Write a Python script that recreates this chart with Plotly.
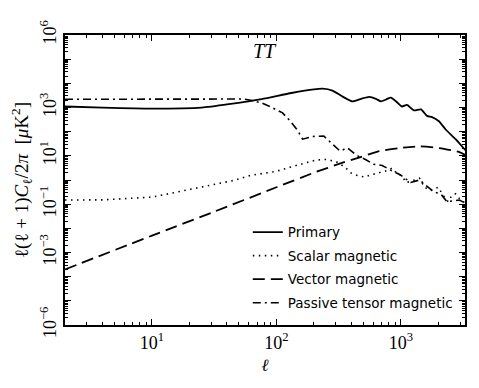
import numpy as np
import plotly.graph_objects as go

# multipoles and D_ell values (muK^2)
ell_primary = [2, 4, 10, 25, 43, 76, 132, 200, 235, 282, 340, 410, 480, 556, 630,
               692, 760, 830, 930, 1020, 1120, 1270, 1450, 1620, 1780, 2020, 2290,
               2750, 3300]
d_primary = [1100, 980, 890, 980, 1410, 2240, 3980, 5620, 6000, 5000, 2820, 1780,
             2290, 2750, 2290, 1780, 2140, 2570, 1660, 1100, 1290, 760, 830, 450,
             400, 270, 123, 49, 17]

ell_scalar = [2, 4, 10, 25, 45, 62, 100, 129, 162, 209, 251, 302, 355, 398, 447,
              513, 562, 631, 708, 776, 851, 933, 1023, 1096, 1202, 1318, 1413,
              1549, 1738, 1995, 2188, 2399, 2570, 2754, 3020, 3300]
d_scalar = [0.148, 0.151, 0.195, 0.49, 0.95, 1.55, 2.29, 3.39, 4.68, 6.76, 7.08,
            5.75, 3.39, 1.95, 1.55, 1.32, 1.58, 1.86, 2.09, 2.45, 3.09, 1.82, 1.48,
            0.79, 0.87, 1.07, 1.17, 0.50, 0.37, 0.50, 0.23, 0.126, 0.23, 0.27,
            0.148, 0.11]

ell_vector = [2, 10, 32, 100, 200, 340, 460, 670, 970, 1400, 2020, 2920, 3300]
d_vector = [2.0e-4, 5.0e-3, 0.05, 0.5, 2.0, 5.2, 8.5, 15.5, 21, 24.5, 21, 14.5, 10.7]

ell_tensor = [2, 10, 43, 55, 62, 76, 91, 112, 129, 148, 162, 195, 240, 275, 324,
              372, 437, 520, 603, 708, 832, 977, 1200, 1410, 1780, 2140, 2340,
              2950, 3300]
d_tensor = [2190, 2240, 2290, 2240, 2000, 1550, 1020, 600, 275, 112, 49, 63, 66,
            36, 15.8, 21.4, 10.7, 7.0, 4.5, 4.0, 2.5, 1.7, 0.79, 1.0, 0.37, 0.23,
            0.126, 0.148, 0.11]

x_ticks = [10, 100, 1000]
x_ticktext = ["10<sup>1</sup>", "10<sup>2</sup>", "10<sup>3</sup>"]
y_labels = {6: "10<sup>6</sup>", 3: "10<sup>3</sup>", 1: "10<sup>1</sup>",
            -1: "10<sup>\u22121</sup>", -3: "10<sup>\u22123</sup>", -6: "10<sup>\u22126</sup>"}

serif = "Liberation Serif, DejaVu Serif, serif"

fig = go.Figure()
fig.add_trace(go.Scatter(x=ell_primary, y=d_primary, mode="lines", name="Primary",
                         legendgroup="a", line=dict(color="black", width=1.8, shape="spline", smoothing=0.6)))
fig.add_trace(go.Scatter(x=ell_scalar, y=d_scalar, mode="lines", name="Scalar magnetic",
                         legendgroup="b", line=dict(color="black", width=1.6, dash="1.5px,4.5px")))
fig.add_trace(go.Scatter(x=ell_vector, y=d_vector, mode="lines", name="Vector magnetic",
                         legendgroup="c", line=dict(color="black", width=1.8, dash="12px,6px",
                                                    shape="spline", smoothing=0.6)))
fig.add_trace(go.Scatter(x=ell_tensor, y=d_tensor, mode="lines", name="Passive tensor magnetic",
                         legendgroup="d", line=dict(color="black", width=1.6, dash="8px,4px,2px,4px")))

# minor log ticks 2..9 in each decade
x_minor = [k * 10.0 ** d for d in range(0, 4) for k in range(2, 10) if 2 <= k * 10.0 ** d <= 3300]
y_minor = [k * 10.0 ** d for d in range(-6, 6) for k in range(2, 10)]
y_major = [10.0 ** d for d in range(-6, 7)]
y_text = [y_labels.get(d, "") for d in range(-6, 7)]

axis_common = dict(type="log", showline=True, linecolor="black", linewidth=2, mirror="allticks",
                   ticks="inside", ticklen=6, tickwidth=1, tickcolor="black", showgrid=False,
                   zeroline=False, tickfont=dict(family=serif, size=18, color="black"))

fig.update_xaxes(**axis_common, range=[np.log10(2), 3.515], tickmode="array",
                 tickvals=x_ticks, ticktext=x_ticktext,
                 minor=dict(tickmode="array", tickvals=x_minor, ticks="inside", ticklen=3,
                            tickcolor="black", showgrid=False),
                 title=dict(text="<i>\u2113</i>", font=dict(family=serif, size=17, color="black"), standoff=8))
fig.update_yaxes(**axis_common, range=[-6, 6], tickmode="array", tickvals=y_major,
                 ticktext=y_text, tickangle=-90,
                 minor=dict(tickmode="array", tickvals=y_minor, ticks="inside", ticklen=3,
                            tickcolor="black", showgrid=False),
                 title=dict(text="\u2113(\u2113 + 1)<i>C</i><sub>\u2113</sub>/2<i>\u03c0</i>  [<i>\u03bc</i>K<sup>2</sup>]",
                            font=dict(family=serif, size=19, color="black"), standoff=4))

fig.add_annotation(x=0.5, y=0.945, xref="paper", yref="paper", yanchor="middle", text="<i>TT</i>",
                   showarrow=False, font=dict(family=serif, size=20, color="black"))

# page body keeps an 8px margin, so the figure is drawn 8px smaller and margins shifted
fig.update_layout(
    width=471, height=380,
    margin=dict(l=56, r=12, t=15, b=63),
    paper_bgcolor="white", plot_bgcolor="white",
    legend=dict(x=0.457, y=0.373, xanchor="left", yanchor="top", bgcolor="rgba(0,0,0,0)",
                font=dict(family="DejaVu Sans, sans-serif", size=13.5, color="black"),
                itemwidth=30, tracegroupgap=3),
)

fig.write_html("out.html")
